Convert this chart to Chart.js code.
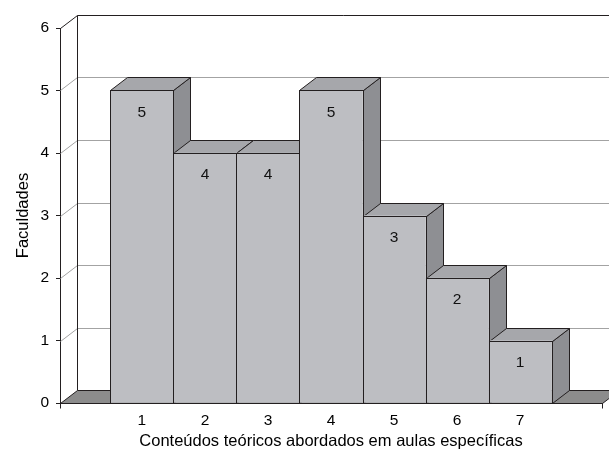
<!DOCTYPE html>
<html>
<head>
<meta charset="utf-8">
<script src="https://cdn.jsdelivr.net/npm/chart.js@4/dist/chart.umd.min.js"></script>
<style>
  html, body { margin: 0; padding: 0; background: #fff; }
  #wrap { width: 609px; height: 451px; }
</style>
</head>
<body>
<div id="wrap"><canvas id="chart"></canvas></div>
<script>
// dados
const categories = [1, 2, 3, 4, 5, 6, 7];
const faculdades = [5, 4, 4, 5, 3, 2, 1];
const yTicks = [0, 1, 2, 3, 4, 5, 6];

const xTitle = 'Conteúdos teóricos abordados em aulas específicas';
const yTitle = 'Faculdades';

// efeito 3D (profundidade em px)
const dx = 17, dy = 13;
const ink = '#231f20';
const frontColor = '#bdbec2';
const topColor = '#a6a7ab';
const sideColor = '#8e8f93';
const floorColor = '#8c8c8c';
const gridColor = '#a3a3a3';
const font = '"Liberation Sans", Arial, Helvetica, sans-serif';

const px = v => Math.round(v) + 0.5;

function poly(ctx, pts, fill) {
  ctx.beginPath();
  ctx.moveTo(pts[0][0], pts[0][1]);
  for (let i = 1; i < pts.length; i++) ctx.lineTo(pts[i][0], pts[i][1]);
  ctx.closePath();
  if (fill) { ctx.fillStyle = fill; ctx.fill(); }
  ctx.stroke();
}

const depth3d = {
  id: 'depth3d',
  beforeDatasetsDraw(chart) {
    const ctx = chart.ctx;
    const area = chart.chartArea;
    const ys = chart.scales.y;
    const L = px(area.left), R = px(area.right), B = px(area.bottom);
    ctx.save();
    ctx.lineWidth = 1;

    // parede do fundo: linhas de grade e diagonais
    yTicks.forEach(v => {
      if (v === 0) return;
      const yp = px(ys.getPixelForValue(v));
      ctx.strokeStyle = v === yTicks[yTicks.length - 1] ? ink : gridColor;
      ctx.beginPath();
      ctx.moveTo(L, yp);
      ctx.lineTo(L + dx, yp - dy);
      ctx.lineTo(chart.width, yp - dy);
      ctx.stroke();
    });
    ctx.strokeStyle = ink;
    ctx.beginPath();
    ctx.moveTo(L + dx, px(area.top) - dy);
    ctx.lineTo(L + dx, B - dy);
    ctx.stroke();

    // piso
    poly(ctx, [[L, B], [R, B], [R + dx, B - dy], [L + dx, B - dy]], floorColor);

    // faces laterais e superiores, da esquerda para a direita
    const meta = chart.getDatasetMeta(0);
    meta.data.forEach(bar => {
      const p = bar.getProps(['x', 'y', 'base', 'width'], true);
      const x0 = px(p.x - p.width / 2), x1 = px(p.x + p.width / 2);
      const t = px(p.y), b = px(p.base);
      poly(ctx, [[x1, t], [x1 + dx, t - dy], [x1 + dx, b - dy], [x1, b]], sideColor);
      poly(ctx, [[x0, t], [x1, t], [x1 + dx, t - dy], [x0 + dx, t - dy]], topColor);
    });
    ctx.restore();
  },
  afterDatasetsDraw(chart) {
    const ctx = chart.ctx;
    const area = chart.chartArea;
    const meta = chart.getDatasetMeta(0);
    ctx.save();
    ctx.lineWidth = 1;
    ctx.strokeStyle = ink;
    meta.data.forEach((bar, i) => {
      const p = bar.getProps(['x', 'y', 'base', 'width'], true);
      const x0 = px(p.x - p.width / 2), x1 = px(p.x + p.width / 2);
      const t = px(p.y), b = px(p.base);
      ctx.strokeRect(x0, t, x1 - x0, b - t);
      ctx.fillStyle = '#111';
      ctx.font = '15.5px ' + font;
      ctx.textAlign = 'center';
      ctx.textBaseline = 'middle';
      ctx.fillText(String(faculdades[i]), p.x, p.y + 22);
    });
    // marcas nas pontas do eixo x
    const B = px(area.bottom);
    [area.left, area.right].forEach(xv => {
      ctx.beginPath();
      ctx.moveTo(px(xv), B);
      ctx.lineTo(px(xv), B + 5);
      ctx.stroke();
    });
    ctx.restore();
  }
};

new Chart(document.getElementById('chart'), {
  type: 'bar',
  data: {
    datasets: [{
      data: categories.map((c, i) => ({ x: c, y: faculdades[i] })),
      backgroundColor: frontColor,
      borderWidth: 0,
      barPercentage: 1,
      categoryPercentage: 1
    }]
  },
  options: {
    responsive: true,
    maintainAspectRatio: false,
    animation: false,
    layout: { padding: { top: 28, right: 7, bottom: 0, left: 0 } },
    plugins: {
      legend: { display: false },
      tooltip: { enabled: false }
    },
    scales: {
      x: {
        type: 'linear',
        offset: false,
        min: -0.3,
        max: 8.3,
        afterBuildTicks: s => { s.ticks = categories.map(v => ({ value: v })); },
        afterFit: s => { s.height = 48; },
        grid: { display: false, drawTicks: false, offset: false },
        border: { display: true, color: ink, width: 1 },
        ticks: {
          color: '#000',
          padding: 8,
          font: { family: font, size: 15.5 },
          callback: v => String(v)
        },
        title: {
          display: true,
          text: xTitle,
          color: '#000',
          padding: { top: 0, bottom: 0 },
          font: { family: font, size: 16.5 }
        }
      },
      y: {
        min: 0,
        max: 6,
        afterBuildTicks: s => { s.ticks = yTicks.map(v => ({ value: v })); },
        afterFit: s => { s.width = 60; },
        grid: { display: true, drawOnChartArea: false, drawTicks: true, tickLength: 4, color: ink },
        border: { display: true, color: ink, width: 1 },
        ticks: {
          color: '#000',
          padding: 7,
          font: { family: font, size: 15.5 }
        },
        title: {
          display: true,
          text: yTitle,
          color: '#000',
          padding: { top: 14, bottom: 0 },
          font: { family: font, size: 16.5 }
        }
      }
    }
  },
  plugins: [depth3d]
});
</script>
</body>
</html>
